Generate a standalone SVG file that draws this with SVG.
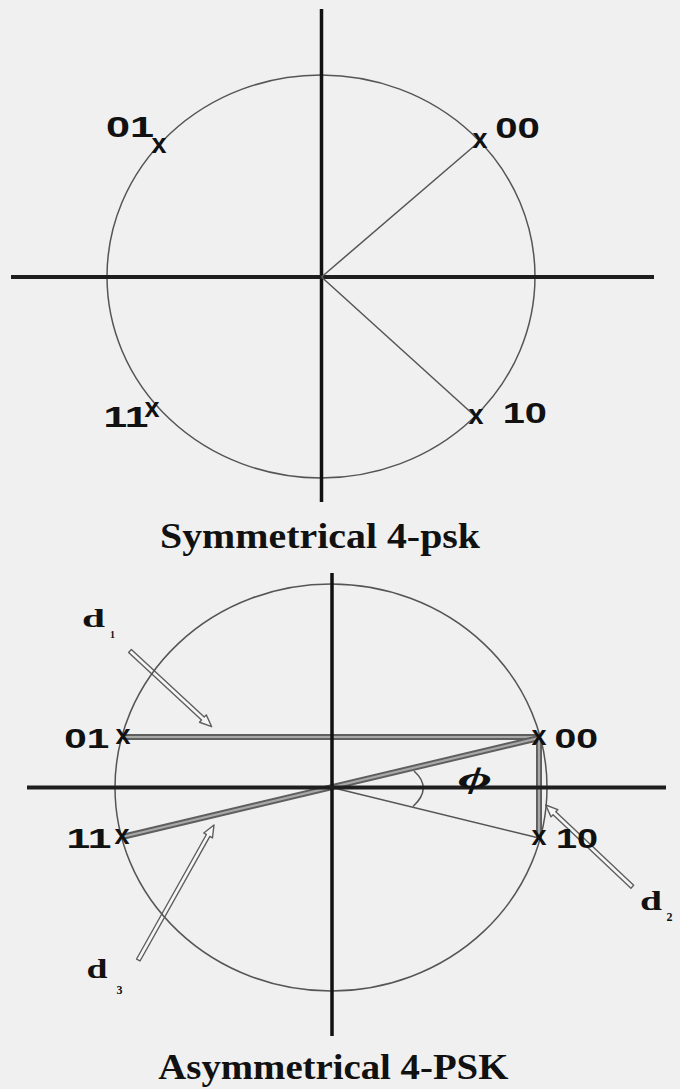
<svg xmlns="http://www.w3.org/2000/svg" width="680" height="1089" viewBox="0 0 680 1089">
<style>
.bg{fill:#f0f0f0}
.axis{stroke:#111;stroke-width:3.5;fill:none}
.haxis{stroke:#1e1e1e;stroke-width:4;fill:none}
.circ{stroke:#555;stroke-width:1.5;fill:none}
.thin{stroke:#555;stroke-width:1.5;fill:none}
.barO{stroke:#5e5e5e;stroke-width:6;fill:none;stroke-linecap:butt}
.barI{stroke:#a8a8a8;stroke-width:2.2;fill:none;stroke-linecap:butt}
.arrow{fill:#f6f6f6;stroke:#5e5e5e;stroke-width:1.4;stroke-linejoin:round}
.lbl{font-family:"Liberation Sans",Arial,sans-serif;font-weight:bold;fill:#111}
.mk{font-family:"Liberation Sans",Arial,sans-serif;font-weight:bold;font-size:27px;fill:#111;text-anchor:middle}
.ttl{font-family:"Liberation Serif","Times New Roman",serif;font-weight:bold;font-size:35px;fill:#111;text-anchor:middle}
.dl{font-family:"Liberation Serif","Times New Roman",serif;font-weight:bold;fill:#111}
.phi{font-family:"Liberation Serif","DejaVu Serif",serif;font-weight:bold;font-style:italic;fill:#111}
</style>
<rect class="bg" x="0" y="0" width="680" height="1089"/>

<!-- Top: symmetrical -->
<g id="top-axes">
  <ellipse class="circ" cx="321" cy="276.5" rx="214" ry="201.5"/>
  <line class="axis" x1="321.5" y1="9" x2="321.5" y2="502"/>
  <line class="haxis" x1="11" y1="277" x2="654" y2="277"/>
</g>
<g id="connectors">
  <line class="thin" x1="321.5" y1="277" x2="480" y2="141"/>
  <line class="thin" x1="321.5" y1="277" x2="476" y2="417"/>
  <!-- bottom -->
  <line class="thin" x1="332" y1="787.5" x2="539" y2="838"/>
  <line class="barO" x1="123" y1="737" x2="539" y2="737"/>
  <line class="barI" x1="123" y1="737" x2="539" y2="737"/>
  <line class="barO" x1="122" y1="837" x2="539" y2="738"/>
  <line class="barI" x1="122" y1="837" x2="539" y2="738"/>
  <line class="barO" x1="539" y1="738" x2="539" y2="838"/>
  <line class="barI" x1="539" y1="738" x2="539" y2="838"/>
  <path class="thin" d="M414,771 Q433,788 413,806.5"/>
  <polygon class="arrow" points="128.64,652.47 201.54,720.02 199.5,722.22 211.7,726.7 206.3,714.88 204.26,717.08 131.36,649.53"/>
  <polygon class="arrow" points="140.04,960.98 209.87,836.44 212.49,837.91 214,825 203.77,833.01 206.39,834.48 136.56,959.02"/>
  <polygon class="arrow" points="633.67,885.25 555.8,811.78 557.86,809.59 545.7,805 551,816.87 553.06,814.68 630.93,888.15"/>
</g>

<g id="t-01"><text class="mk" x="159" y="153">x</text><text class="lbl" x="106" y="137" font-size="30" textLength="48" lengthAdjust="spacingAndGlyphs">01</text></g>
<g id="t-00"><text class="mk" x="480" y="148">x</text><text class="lbl" x="495.3" y="137.5" font-size="30" textLength="44.6" lengthAdjust="spacingAndGlyphs">00</text></g>
<g id="t-11"><text class="mk" x="152" y="417">x</text><text class="lbl" x="103.5" y="427" font-size="30" textLength="45" lengthAdjust="spacingAndGlyphs">11</text></g>
<g id="t-10"><text class="mk" x="476" y="424">x</text><text class="lbl" x="502.7" y="423" font-size="30" textLength="44.2" lengthAdjust="spacingAndGlyphs">10</text></g>
<text id="title-top" class="ttl" x="320" y="547.5" textLength="320" lengthAdjust="spacingAndGlyphs">Symmetrical 4-psk</text>

<!-- Bottom: asymmetrical -->
<g id="bottom-axes">
  <ellipse class="circ" cx="331" cy="787.5" rx="216" ry="203.5"/>
  <line class="axis" x1="332" y1="573" x2="332" y2="1036"/>
  <line class="haxis" x1="27" y1="787.5" x2="666" y2="787.5"/>
</g>
<g id="b-01"><text class="mk" x="123" y="744">x</text><text class="lbl" x="64.3" y="748" font-size="28" textLength="45" lengthAdjust="spacingAndGlyphs">01</text></g>
<g id="b-00"><text class="mk" x="539" y="745">x</text><text class="lbl" x="554.5" y="748.3" font-size="28" textLength="43.6" lengthAdjust="spacingAndGlyphs">00</text></g>
<g id="b-11"><text class="mk" x="122" y="844">x</text><text class="lbl" x="66.5" y="848.3" font-size="28" textLength="45" lengthAdjust="spacingAndGlyphs">11</text></g>
<g id="b-10"><text class="mk" x="539" y="845">x</text><text class="lbl" x="556" y="848.3" font-size="28" textLength="42" lengthAdjust="spacingAndGlyphs">10</text></g>
<g id="phi"><text class="phi" x="458" y="788" font-size="30" textLength="34" lengthAdjust="spacingAndGlyphs">ϕ</text></g>
<g id="d1"><text class="dl" x="82" y="627" font-size="26" textLength="23" lengthAdjust="spacingAndGlyphs">d</text><text class="dl" x="110" y="638" font-size="10">1</text></g>
<g id="d2"><text class="dl" x="640" y="910" font-size="27" textLength="22" lengthAdjust="spacingAndGlyphs">d</text><text class="dl" x="666.5" y="921" font-size="12">2</text></g>
<g id="d3"><text class="dl" x="86.5" y="978.3" font-size="27" textLength="21" lengthAdjust="spacingAndGlyphs">d</text><text class="dl" x="116.5" y="994" font-size="12">3</text></g>
<text id="title-bottom" class="ttl" x="333.3" y="1079" textLength="350" lengthAdjust="spacingAndGlyphs">Asymmetrical 4-PSK</text>
</svg>
